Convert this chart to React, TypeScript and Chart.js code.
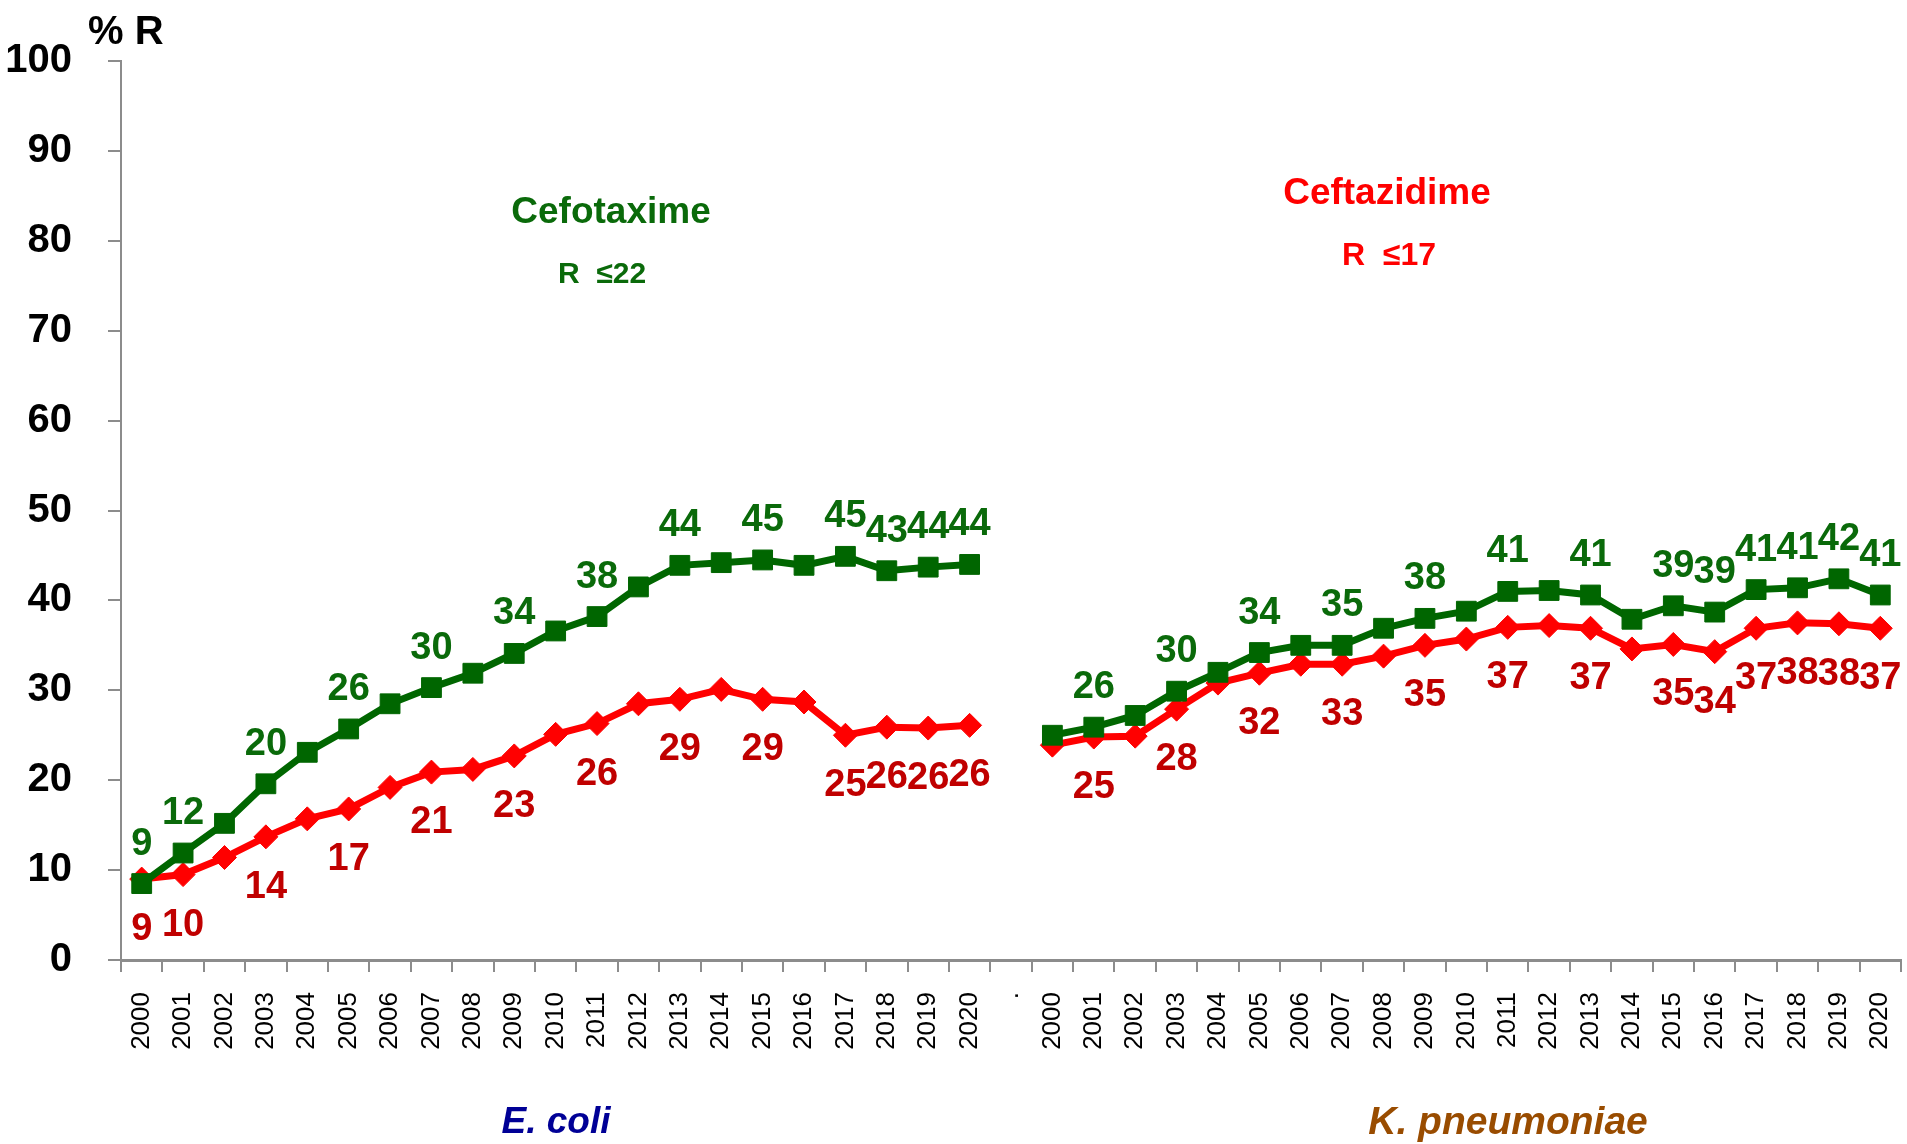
import React, { useEffect, useRef } from 'react';
import { Chart, registerables } from 'chart.js';

Chart.register(...registerables);

const YEARS = ['2000', '2001', '2002', '2003', '2004', '2005', '2006', '2007', '2008', '2009', '2010',
  '2011', '2012', '2013', '2014', '2015', '2016', '2017', '2018', '2019', '2020'];
const SEPARATOR = '.';
const CATEGORIES = [...YEARS, SEPARATOR, ...YEARS];

const Y_TICKS = [0, 10, 20, 30, 40, 50, 60, 70, 80, 90, 100];

// E. coli
const ECOLI_CEFOTAXIME = [8.5, 11.9, 15.2, 19.6, 23.1, 25.7, 28.5, 30.3, 31.9, 34.1, 36.6,
  38.2, 41.5, 43.9, 44.2, 44.5, 43.9, 44.9, 43.3, 43.7, 44.0];
const ECOLI_CEFTAZIDIME = [9.0, 9.5, 11.4, 13.7, 15.7, 16.8, 19.2, 20.9, 21.2, 22.7, 25.1,
  26.3, 28.5, 29.0, 30.1, 29.0, 28.7, 25.0, 25.9, 25.8, 26.1];
// K. pneumoniae
const KPNEU_CEFOTAXIME = [25.0, 25.9, 27.2, 29.9, 32.0, 34.2, 35.0, 35.0, 36.9, 38.0, 38.8,
  41.0, 41.1, 40.6, 37.9, 39.4, 38.7, 41.2, 41.4, 42.4, 40.6];
const KPNEU_CEFTAZIDIME = [23.9, 24.8, 24.9, 27.9, 30.8, 31.9, 32.9, 32.9, 33.8, 35.0, 35.7,
  37.0, 37.2, 36.9, 34.6, 35.1, 34.3, 36.9, 37.5, 37.4, 36.9];

// displayed value labels (null = not shown)
const ECOLI_CEFOTAXIME_LABELS = [9, 12, null, 20, null, 26, null, 30, null, 34, null, 38, null, 44, null, 45, null, 45, 43, 44, 44];
const ECOLI_CEFTAZIDIME_LABELS = [9, 10, null, 14, null, 17, null, 21, null, 23, null, 26, null, 29, null, 29, null, 25, 26, 26, 26];
const KPNEU_CEFOTAXIME_LABELS = [null, 26, null, 30, null, 34, null, 35, null, 38, null, 41, null, 41, null, 39, 39, 41, 41, 42, 41];
const KPNEU_CEFTAZIDIME_LABELS = [null, 25, null, 28, null, 32, null, 33, null, 35, null, 37, null, 37, null, 35, 34, 37, 38, 38, 37];

const FONT = '"Liberation Sans", Arial, Helvetica, sans-serif';
const GREEN = '#006600';
const GREEN_TEXT = '#0a6a0a';
const RED = '#ff0000';
const RED_TEXT = '#c00000';
const AXIS_GREY = '#8c8c8c';

const pointLabelPlugin = {
  id: 'pointLabelPlugin',
  afterDatasetsDraw(chart: any) {
    const ctx = chart.ctx;
    ctx.save();
    ctx.textAlign = 'center';
    ctx.textBaseline = 'alphabetic';
    ctx.font = `bold 38px ${FONT}`;
    chart.data.datasets.forEach((ds: any, i: number) => {
      const meta = chart.getDatasetMeta(i);
      const labels = ds.valueLabels as (number | null)[];
      ctx.fillStyle = ds.valueLabelColor;
      meta.data.forEach((pt: any, j: number) => {
        const t = labels[j];
        if (t == null || pt.skip) return;
        ctx.fillText(String(t), pt.x, pt.y + ds.valueLabelDy);
      });
    });
    ctx.restore();
  },
};

const textPlugin = {
  id: 'textPlugin',
  afterDraw(chart: any) {
    const ctx = chart.ctx;
    ctx.save();
    ctx.textBaseline = 'alphabetic';
    // axis title
    ctx.textAlign = 'left';
    ctx.fillStyle = '#000';
    ctx.font = `bold 40px ${FONT}`;
    ctx.fillText('% R', 88, 44);
    ctx.textAlign = 'center';
    // antibiotic titles
    ctx.fillStyle = GREEN_TEXT;
    ctx.font = `bold 37px ${FONT}`;
    ctx.fillText('Cefotaxime', 611, 223);
    ctx.font = `bold 30px ${FONT}`;
    ctx.fillText('R  \u226422', 602, 283);
    ctx.fillStyle = RED;
    ctx.font = `bold 37px ${FONT}`;
    ctx.fillText('Ceftazidime', 1387, 204);
    ctx.font = `bold 32px ${FONT}`;
    ctx.fillText('R  \u226417', 1389, 265);
    // organism names
    ctx.fillStyle = '#000096';
    ctx.font = `italic bold 37px ${FONT}`;
    ctx.fillText('E. coli', 556, 1133);
    ctx.fillStyle = '#994c00';
    ctx.font = `italic bold 39px ${FONT}`;
    ctx.fillText('K. pneumoniae', 1508, 1134);
    ctx.restore();
  },
};

export default function App() {
  const canvasRef = useRef<HTMLCanvasElement | null>(null);

  useEffect(() => {
    const canvas = canvasRef.current;
    if (!canvas) return;
    const cefotaxime = [...ECOLI_CEFOTAXIME, null, ...KPNEU_CEFOTAXIME];
    const ceftazidime = [...ECOLI_CEFTAZIDIME, null, ...KPNEU_CEFTAZIDIME];
    const cefotaximeLabels = [...ECOLI_CEFOTAXIME_LABELS, null, ...KPNEU_CEFOTAXIME_LABELS];
    const ceftazidimeLabels = [...ECOLI_CEFTAZIDIME_LABELS, null, ...KPNEU_CEFTAZIDIME_LABELS];

    const chart = new Chart(canvas, {
      type: 'line',
      data: {
        labels: CATEGORIES,
        datasets: [
          {
            label: 'Cefotaxime',
            data: cefotaxime,
            borderColor: GREEN,
            backgroundColor: GREEN,
            borderWidth: 7,
            pointStyle: 'rect',
            pointRadius: 14,
            pointBorderWidth: 1,
            pointBackgroundColor: GREEN,
            pointBorderColor: GREEN,
            spanGaps: false,
            tension: 0,
            valueLabels: cefotaximeLabels,
            valueLabelColor: GREEN_TEXT,
            valueLabelDy: -29,
          } as any,
          {
            label: 'Ceftazidime',
            data: ceftazidime,
            borderColor: RED,
            backgroundColor: RED,
            borderWidth: 7,
            pointStyle: 'rectRot',
            pointRadius: 12,
            pointBorderWidth: 1,
            pointBackgroundColor: RED,
            pointBorderColor: RED,
            spanGaps: false,
            tension: 0,
            valueLabels: ceftazidimeLabels,
            valueLabelColor: RED_TEXT,
            valueLabelDy: 61,
          } as any,
        ],
      },
      options: {
        responsive: false,
        animation: false,
        layout: { autoPadding: false, padding: { top: 61, right: 6, left: 0, bottom: 0 } },
        plugins: {
          legend: { display: false },
          tooltip: { enabled: false },
          title: { display: false },
        },
        scales: {
          x: {
            type: 'category',
            offset: true,
            grid: {
              offset: true,
              drawOnChartArea: false,
              drawTicks: true,
              tickLength: 12,
              color: AXIS_GREY,
              lineWidth: 2,
            },
            border: { display: true, color: AXIS_GREY, width: 3 },
            ticks: {
              autoSkip: false,
              maxRotation: 90,
              minRotation: 90,
              padding: 20,
              color: '#000',
              font: { family: FONT, size: 26 },
            },
            afterFit: (s: any) => {
              s.height = 184;
              s.paddingLeft = 0;
              s.paddingRight = 0;
            },
          },
          y: {
            min: 0,
            max: 100,
            afterBuildTicks: (s: any) => { s.ticks = Y_TICKS.map((v) => ({ value: v })); },
            ticks: {
              padding: 36,
              color: '#000',
              font: { family: FONT, size: 40, weight: 'bold' },
            },
            grid: {
              drawOnChartArea: false,
              drawTicks: true,
              tickLength: 13,
              color: AXIS_GREY,
              lineWidth: 2,
            },
            border: { display: true, color: AXIS_GREY, width: 2 },
            afterFit: (s: any) => { s.width = 121; },
          },
        },
      },
      plugins: [pointLabelPlugin, textPlugin],
    });
    return () => chart.destroy();
  }, []);

  return (
    <div style={{ position: 'fixed', left: 0, top: 0, width: 1907, height: 1144, background: '#fff' }}>
      <canvas ref={canvasRef} width={1907} height={1144} style={{ display: 'block' }} />
    </div>
  );
}
